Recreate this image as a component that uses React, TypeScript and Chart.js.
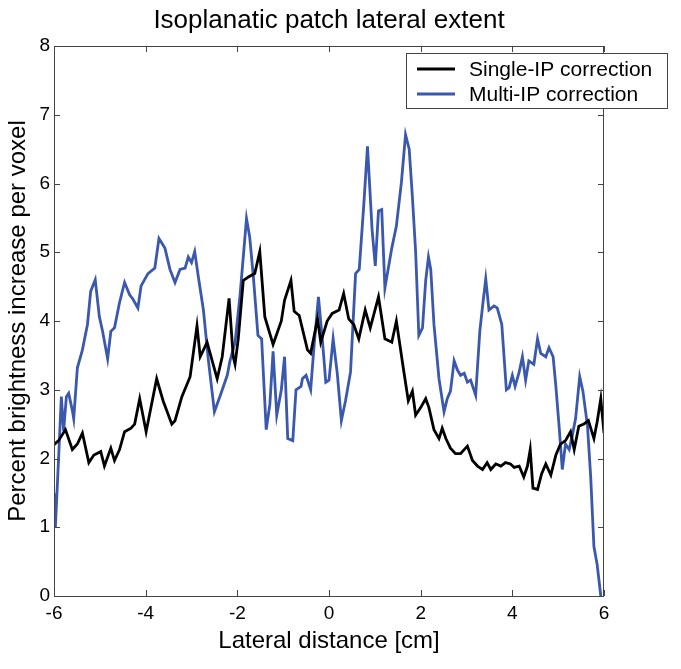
import React, { useEffect, useRef } from "react";
import { Chart, registerables } from "chart.js";

Chart.register(...registerables);

const titleText = "Isoplanatic patch lateral extent";
const xTitle = "Lateral distance [cm]";
const yTitle = "Percent brightness increase per voxel";
const seriesNames = ["Single-IP correction", "Multi-IP correction"];

const singleX = [-6.0, -5.9, -5.75, -5.6, -5.49, -5.38, -5.24, -5.13, -4.98, -4.9, -4.76, -4.68, -4.57, -4.46, -4.32, -4.24, -4.13, -3.99, -3.76, -3.62, -3.43, -3.36, -3.21, -3.03, -2.88, -2.81, -2.66, -2.44, -2.33, -2.18, -2.09, -2.05, -1.98, -1.87, -1.76, -1.62, -1.51, -1.4, -1.22, -1.04, -0.97, -0.83, -0.76, -0.65, -0.47, -0.4, -0.25, -0.18, -0.04, 0.07, 0.22, 0.32, 0.43, 0.54, 0.65, 0.79, 0.9, 1.08, 1.22, 1.37, 1.47, 1.62, 1.73, 1.82, 1.89, 2.0, 2.11, 2.18, 2.29, 2.4, 2.47, 2.55, 2.65, 2.76, 2.87, 3.02, 3.13, 3.24, 3.35, 3.45, 3.53, 3.64, 3.75, 3.85, 3.96, 4.04, 4.15, 4.25, 4.33, 4.39, 4.45, 4.55, 4.64, 4.73, 4.84, 4.95, 5.05, 5.16, 5.27, 5.35, 5.45, 5.56, 5.66, 5.78, 5.85, 5.93, 6.0];
const singleY = [2.2, 2.26, 2.42, 2.13, 2.21, 2.37, 1.94, 2.05, 2.1, 1.89, 2.15, 1.97, 2.13, 2.39, 2.44, 2.5, 2.87, 2.39, 3.16, 2.84, 2.5, 2.55, 2.9, 3.19, 3.93, 3.48, 3.69, 3.16, 3.48, 4.33, 3.48, 3.37, 3.74, 4.59, 4.64, 4.69, 5.01, 4.06, 3.66, 4.0, 4.3, 4.59, 4.14, 4.08, 3.58, 3.53, 4.03, 3.69, 4.0, 4.11, 4.16, 4.4, 4.03, 3.95, 3.74, 4.16, 3.9, 4.35, 3.74, 3.69, 4.0, 3.32, 2.84, 2.98, 2.63, 2.74, 2.87, 2.74, 2.42, 2.29, 2.44, 2.29, 2.15, 2.07, 2.07, 2.18, 1.97, 1.89, 1.84, 1.94, 1.84, 1.92, 1.89, 1.94, 1.92, 1.87, 1.89, 1.73, 1.89, 2.13, 1.57, 1.55, 1.78, 1.92, 1.76, 2.05, 2.21, 2.26, 2.39, 2.13, 2.47, 2.5, 2.55, 2.29, 2.53, 2.87, 2.37];

const multiX = [-6.0, -5.97, -5.9, -5.84, -5.79, -5.73, -5.68, -5.6, -5.57, -5.49, -5.38, -5.27, -5.2, -5.1, -5.01, -4.94, -4.83, -4.76, -4.68, -4.57, -4.46, -4.35, -4.28, -4.17, -4.1, -3.95, -3.8, -3.71, -3.58, -3.47, -3.36, -3.25, -3.14, -3.07, -3.0, -2.93, -2.85, -2.74, -2.63, -2.5, -2.37, -2.22, -2.16, -2.05, -1.94, -1.8, -1.73, -1.65, -1.55, -1.47, -1.37, -1.29, -1.22, -1.14, -1.04, -0.97, -0.9, -0.79, -0.72, -0.61, -0.58, -0.5, -0.4, -0.32, -0.23, -0.14, -0.07, 0.0, 0.09, 0.18, 0.27, 0.36, 0.47, 0.58, 0.66, 0.76, 0.84, 0.94, 1.01, 1.08, 1.15, 1.22, 1.37, 1.47, 1.58, 1.67, 1.75, 1.82, 1.89, 1.96, 2.04, 2.11, 2.17, 2.22, 2.29, 2.4, 2.51, 2.58, 2.65, 2.73, 2.8, 2.87, 2.95, 3.02, 3.09, 3.2, 3.29, 3.36, 3.42, 3.49, 3.6, 3.67, 3.77, 3.87, 3.93, 4.0, 4.06, 4.15, 4.22, 4.29, 4.36, 4.47, 4.55, 4.62, 4.73, 4.8, 4.89, 4.95, 5.02, 5.09, 5.16, 5.24, 5.31, 5.38, 5.47, 5.54, 5.64, 5.71, 5.78, 5.85, 5.93, 5.97];
const multiY = [1.5, 1.0, 2.0, 2.9, 2.4, 2.9, 2.95, 2.7, 2.58, 3.32, 3.58, 3.95, 4.43, 4.6, 4.06, 3.85, 3.45, 3.85, 3.9, 4.27, 4.56, 4.38, 4.32, 4.19, 4.51, 4.69, 4.77, 5.2, 5.06, 4.75, 4.56, 4.75, 4.77, 4.93, 4.85, 5.01, 4.64, 4.16, 3.42, 2.68, 2.92, 3.21, 3.42, 3.69, 4.38, 5.49, 5.22, 4.64, 3.79, 3.74, 2.42, 2.79, 3.56, 2.63, 3.0, 3.48, 2.29, 2.26, 3.0, 3.05, 3.16, 3.21, 3.0, 3.69, 4.35, 3.69, 3.11, 3.14, 3.74, 3.24, 2.55, 2.84, 3.26, 4.69, 4.75, 5.7, 6.54, 5.33, 4.8, 5.6, 5.62, 4.48, 5.06, 5.38, 6.02, 6.71, 6.5, 5.8, 5.01, 3.79, 3.9, 4.59, 4.93, 4.75, 3.95, 3.16, 2.68, 2.87, 2.98, 3.42, 3.29, 3.21, 3.24, 3.11, 3.14, 2.92, 3.85, 4.27, 4.61, 4.16, 4.22, 4.19, 3.95, 3.0, 3.03, 3.21, 3.05, 3.26, 3.48, 3.14, 3.42, 3.37, 3.74, 3.53, 3.48, 3.61, 3.48, 3.05, 2.47, 1.84, 2.21, 2.13, 2.34, 2.58, 3.19, 2.98, 2.47, 1.73, 0.72, 0.46, 0.0, -0.3];

const xTicks = [-6, -4, -2, 0, 2, 4, 6];
const yTicks = [0, 1, 2, 3, 4, 5, 6, 7, 8];

const colors = ["#000000", "#3a58ad"];
const FONT = "'Liberation Sans', Arial, Helvetica, sans-serif";

const framePlugin = {
  id: "framePlugin",
  afterDraw(chart: any) {
    const { ctx, chartArea, scales } = chart;
    const { left, right, top, bottom } = chartArea;
    ctx.save();
    ctx.strokeStyle = "#444";
    ctx.lineWidth = 1;
    ctx.strokeRect(left + 0.5, top + 0.5, right - left - 1, bottom - top);
    const tl = 6;
    ctx.beginPath();
    xTicks.forEach((v) => {
      const px = Math.round(scales.x.getPixelForValue(v)) + 0.5;
      ctx.moveTo(px, bottom);
      ctx.lineTo(px, bottom - tl);
      ctx.moveTo(px, top);
      ctx.lineTo(px, top + tl);
    });
    yTicks.forEach((v) => {
      const py = Math.round(scales.y.getPixelForValue(v)) + 0.5;
      ctx.moveTo(left, py);
      ctx.lineTo(left + tl, py);
      ctx.moveTo(right, py);
      ctx.lineTo(right - tl, py);
    });
    ctx.stroke();

    // title
    ctx.fillStyle = "#000";
    ctx.font = `26px ${FONT}`;
    ctx.textAlign = "center";
    ctx.textBaseline = "middle";
    ctx.fillText(titleText, (left + right) / 2, 21);

    // legend
    const lx = 406, ly = 53, lw = 261, lh = 55;
    ctx.fillStyle = "#fff";
    ctx.fillRect(lx, ly, lw, lh);
    ctx.strokeStyle = "#444";
    ctx.lineWidth = 1;
    ctx.strokeRect(lx + 0.5, ly + 0.5, lw, lh);
    ctx.font = `21px ${FONT}`;
    ctx.textAlign = "left";
    seriesNames.forEach((name, i) => {
      const yy = ly + 16 + i * 25;
      ctx.strokeStyle = colors[i];
      ctx.lineWidth = 2.8;
      ctx.beginPath();
      ctx.moveTo(417, yy);
      ctx.lineTo(455, yy);
      ctx.stroke();
      ctx.fillStyle = "#000";
      ctx.fillText(name, 469, yy + 1);
    });
    ctx.restore();
  },
};

export default function App() {
  const ref = useRef<HTMLCanvasElement | null>(null);
  useEffect(() => {
    if (!ref.current) return;
    const chart = new Chart(ref.current, {
      type: "line",
      data: {
        datasets: [
          {
            label: seriesNames[0],
            data: singleX.map((x, i) => ({ x, y: singleY[i] })),
            borderColor: colors[0],
            borderWidth: 2.8,
            pointRadius: 0,
            tension: 0,
          },
          {
            label: seriesNames[1],
            data: multiX.map((x, i) => ({ x, y: multiY[i] })),
            borderColor: colors[1],
            borderWidth: 2.8,
            pointRadius: 0,
            tension: 0,
          },
        ],
      },
      options: {
        animation: false,
        responsive: false,
        maintainAspectRatio: false,
        layout: { padding: { top: 46, right: 77, left: 0, bottom: 0 } },
        plugins: {
          legend: { display: false },
          title: { display: false },
          tooltip: { enabled: false },
        },
        scales: {
          x: {
            type: "linear",
            min: -6,
            max: 6,
            afterFit: (s: any) => {
              s.height = 73;
            },
            afterBuildTicks: (s: any) => {
              s.ticks = xTicks.map((v) => ({ value: v }));
            },
            grid: { display: false, drawTicks: false },
            border: { display: false },
            ticks: {
              color: "#000",
              padding: 6,
              maxRotation: 0,
              font: { family: FONT, size: 19 },
            },
            title: {
              display: true,
              text: xTitle,
              color: "#000",
              font: { family: FONT, size: 24 },
              padding: { top: 13, bottom: 13 },
            },
          },
          y: {
            type: "linear",
            min: 0,
            max: 8,
            afterFit: (s: any) => {
              s.width = 54;
            },
            afterBuildTicks: (s: any) => {
              s.ticks = yTicks.map((v) => ({ value: v }));
            },
            grid: { display: false, drawTicks: false },
            border: { display: false },
            ticks: {
              color: "#000",
              padding: 4,
              font: { family: FONT, size: 19 },
            },
            title: {
              display: true,
              text: yTitle,
              color: "#000",
              font: { family: FONT, size: 24 },
              padding: { top: 4, bottom: 4 },
            },
          },
        },
      },
      plugins: [framePlugin],
    });
    return () => chart.destroy();
  }, []);
  return (
    <div style={{ position: "absolute", left: 0, top: 0, width: 681, height: 669 }}>
      <canvas ref={ref} width={681} height={669} style={{ width: 681, height: 669, display: "block" }} />
    </div>
  );
}
